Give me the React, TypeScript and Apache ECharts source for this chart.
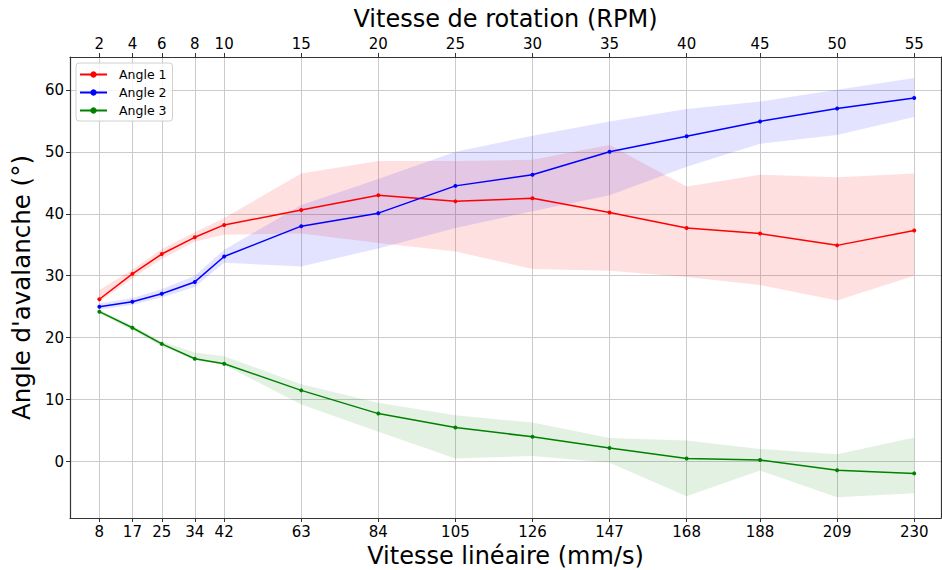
import React, { useEffect, useRef } from "react";
import * as echarts from "echarts";

const speeds = [8, 17, 25, 34, 42, 63, 84, 105, 126, 147, 168, 188, 209, 230];
const rpms = [2, 4, 6, 8, 10, 15, 20, 25, 30, 35, 40, 45, 50, 55];
const yTicks = [0, 10, 20, 30, 40, 50, 60];

const angle1 = [26.2, 30.3, 33.5, 36.2, 38.2, 40.6, 43.0, 42.0, 42.5, 40.2, 37.7, 36.8, 34.9, 37.3];
const angle1Up = [27.7, 31.0, 34.3, 37.0, 39.3, 46.5, 48.5, 48.5, 48.7, 51.1, 44.4, 46.3, 45.9, 46.5];
const angle1Lo = [25.8, 29.6, 32.7, 35.5, 36.6, 36.8, 35.3, 33.9, 31.1, 30.8, 29.8, 28.5, 26.0, 30.0];

const angle2 = [25.0, 25.8, 27.1, 29.0, 33.1, 38.0, 40.1, 44.5, 46.3, 50.0, 52.5, 54.9, 57.0, 58.7];
const angle2Up = [25.5, 26.4, 27.8, 30.0, 34.2, 41.4, 45.6, 50.0, 52.6, 54.9, 56.9, 58.1, 60.0, 61.9];
const angle2Lo = [24.5, 25.3, 26.5, 28.2, 32.1, 31.5, 34.4, 37.7, 40.4, 43.0, 47.6, 51.3, 52.7, 55.6];

const angle3 = [24.2, 21.6, 19.0, 16.6, 15.8, 11.5, 7.75, 5.5, 4.0, 2.2, 0.5, 0.25, -1.4, -1.9];
const angle3Up = [24.5, 22.0, 19.4, 17.6, 17.0, 12.5, 9.5, 7.5, 6.3, 3.8, 3.4, 2.05, 1.2, 3.9];
const angle3Lo = [23.9, 21.2, 18.6, 16.4, 15.6, 9.2, 4.8, 0.5, 0.9, -0.2, -5.6, -1.45, -5.75, -5.1];

const names = ["Angle 1", "Angle 2", "Angle 3"];
const colors = ["#ff0000", "#0000ff", "#008000"];
const fills = ["rgba(255,0,0,0.12)", "rgba(0,0,255,0.11)", "rgba(0,128,0,0.11)"];

const FONT = "DejaVu Sans";

export default function App() {
  const ref = useRef<HTMLDivElement>(null);
  useEffect(() => {
    if (!ref.current) return;
    const chart = echarts.init(ref.current, undefined, { renderer: "svg" });
    const mains = [angle1, angle2, angle3];
    const ups = [angle1Up, angle2Up, angle3Up];
    const los = [angle1Lo, angle2Lo, angle3Lo];
    const series: any[] = [];
    for (let k = 0; k < 3; k++) {
      const up = ups[k];
      const lo = los[k];
      series.push({
        name: "band" + k,
        type: "custom",
        silent: true,
        z: 1,
        data: speeds.map((s, i) => [s, up[i], lo[i]]),
        encode: { x: 0, y: [1, 2] },
        renderItem: (params: any, api: any) => {
          if (params.dataIndex !== 0) return null;
          const pts: number[][] = [];
          for (let i = 0; i < speeds.length; i++) pts.push(api.coord([speeds[i], up[i]]));
          for (let i = speeds.length - 1; i >= 0; i--) pts.push(api.coord([speeds[i], lo[i]]));
          return {
            type: "polygon",
            shape: { points: pts },
            style: { fill: fills[k], stroke: "none" },
          };
        },
      });
    }
    for (let k = 0; k < 3; k++) {
      series.push({
        name: names[k],
        type: "line",
        data: speeds.map((s, i) => [s, mains[k][i]]),
        symbol: "circle",
        symbolSize: 4,
        showSymbol: true,
        color: colors[k],
        lineStyle: { color: colors[k], width: 1.5 },
        itemStyle: { color: colors[k] },
        z: 3,
      });
    }
    const gridColor = "#cbcbcb";
    chart.setOption({
      animation: false,
      textStyle: { fontFamily: FONT },
      grid: { left: 70, right: 1, top: 57, bottom: 52, containLabel: false, outerBoundsMode: "none" },
      legend: {
        data: names,
        orient: "vertical",
        left: 76,
        top: 63,
        itemWidth: 27,
        itemHeight: 8,
        itemGap: 5,
        padding: [5, 6, 4, 3],
        backgroundColor: "rgba(255,255,255,0.8)",
        borderColor: "#d0d0d0",
        borderWidth: 1,
        borderRadius: 3,
        textStyle: { fontFamily: FONT, fontSize: 12.5, color: "#000", padding: [0, 0, 0, 7] },
      },
      xAxis: [
        {
          type: "value",
          position: "bottom",
          min: 0,
          max: 237.3,
          name: "Vitesse linéaire (mm/s)",
          nameLocation: "middle",
          nameGap: 24,
          nameTextStyle: { fontFamily: FONT, fontSize: 24, color: "#000", verticalAlign: "top" },
          axisLine: { show: true, onZero: false, lineStyle: { color: "#333", width: 1.2 } },
          axisTick: { show: true, customValues: speeds, length: 4, lineStyle: { color: "#333" } },
          axisLabel: {
            customValues: speeds,
            fontFamily: FONT,
            fontSize: 15,
            color: "#000",
            margin: 6,
            formatter: (v: number) => String(Math.round(v)),
          },
          splitLine: { show: true, lineStyle: { color: gridColor, width: 1 } },
        },
        {
          type: "value",
          position: "top",
          min: 0,
          max: 237.3,
          name: "Vitesse de rotation (RPM)",
          nameLocation: "middle",
          nameGap: 37,
          nameTextStyle: { fontFamily: FONT, fontSize: 24, color: "#000", verticalAlign: "middle" },
          axisLine: { show: true, onZero: false, lineStyle: { color: "#333", width: 1.2 } },
          axisTick: { show: true, customValues: speeds, length: 4, lineStyle: { color: "#333" } },
          axisLabel: {
            customValues: speeds,
            fontFamily: FONT,
            fontSize: 15,
            color: "#000",
            margin: 6,
            formatter: (v: number) => {
              const i = speeds.findIndex((s) => Math.abs(s - v) < 0.01);
              return i >= 0 ? String(rpms[i]) : "";
            },
          },
          splitLine: { show: false },
        },
      ],
      yAxis: [
        {
          type: "value",
          min: -9.1,
          max: 65.3,
          name: "Angle d'avalanche (°)",
          nameLocation: "middle",
          nameGap: 36,
          nameTextStyle: { fontFamily: FONT, fontSize: 24.5, color: "#000" },
          axisLine: { show: true, onZero: false, lineStyle: { color: "#333", width: 1.2 } },
          axisTick: { show: true, customValues: yTicks, length: 4, lineStyle: { color: "#333" } },
          axisLabel: {
            customValues: yTicks,
            fontFamily: FONT,
            fontSize: 15,
            color: "#000",
            margin: 6,
          },
          splitLine: { show: true, lineStyle: { color: gridColor, width: 1 } },
        },
        {
          type: "value",
          position: "right",
          min: -9.1,
          max: 65.3,
          axisLine: { show: true, onZero: false, lineStyle: { color: "#333", width: 1.2 } },
          axisTick: { show: false },
          axisLabel: { show: false },
          splitLine: { show: false },
        },
      ],
      series,
    });
    return () => chart.dispose();
  }, []);
  return (
    <div
      ref={ref}
      style={{ position: "fixed", left: 0, top: 0, width: 942, height: 570, background: "#fff" }}
    />
  );
}
